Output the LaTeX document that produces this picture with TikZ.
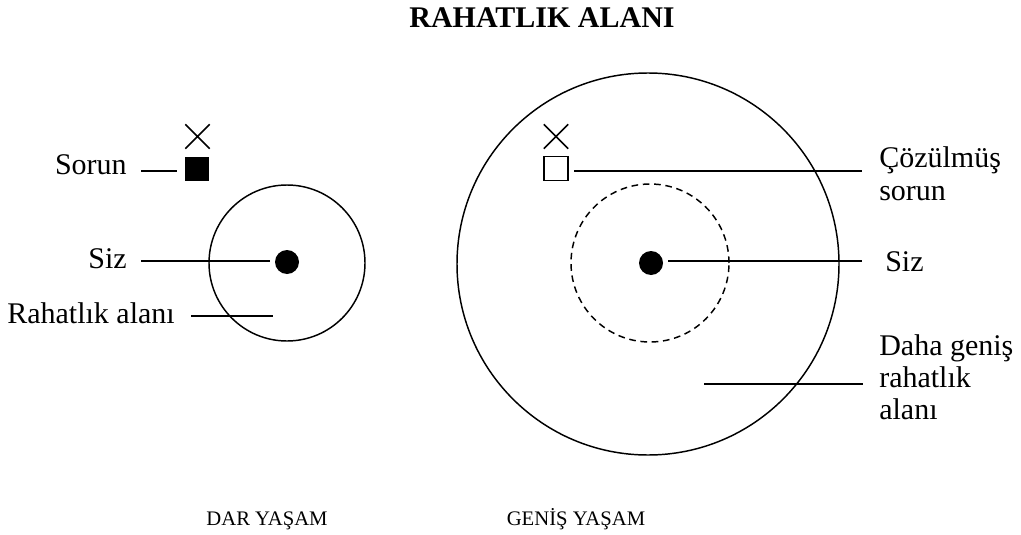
\documentclass[tikz,border=0pt]{standalone}
\usepackage{fontspec}
\setmainfont{Liberation Serif}
\usetikzlibrary{shapes.misc}
\tikzset{
  lbl/.style={inner sep=0pt, font=\fontsize{22.5}{24}\selectfont},
  captxt/.style={inner sep=0pt, font=\fontsize{15.5}{18}\selectfont},
  ring/.style={circle, draw, inner sep=0pt, line width=1.1pt},
  youdot/.style={circle, fill=black, inner sep=0pt, minimum size=18pt},
  xmark/.style={cross out, draw, inner sep=0pt, minimum size=17.25pt, line width=1.1pt},
  sqmark/.style={rectangle, inner sep=0pt, minimum size=18pt, line width=1.1pt},
  conn/.style={line width=1.1pt},
}
\begin{document}
\begin{tikzpicture}[x=0.75pt,y=-0.75pt]
\path[use as bounding box] (0,0) rectangle (1021,535);
% title
\node[inner sep=0pt, font=\bfseries\fontsize{22.5}{24.75}\selectfont, anchor=base] (title) at (542,28) {RAHATLIK ALANI};
% ---------- left diagram
\node[ring, minimum size=117pt] (lcirc) at (287,263) {};
\node[youdot] (ldot) at (287,262) {};
\node[xmark] (lx) at (197.5,136.5) {};
\node[sqmark, fill=black] (lsq) at (197,169) {};
\node[lbl, anchor=base east] (lsorun) at (127,174) {Sorun};
\node[lbl, anchor=base east] (lsiz) at (127,268) {Siz};
\node[lbl, anchor=base east] (lrah) at (175,323) {Rahatlık alanı};
\coordinate (ls1) at (141,171);
\coordinate (ls2) at (177,171);
\coordinate (lz1) at (141,261);
\coordinate (lz2) at (270,261);
\coordinate (lr1) at (191,316);
\coordinate (lr2) at (273,316);
\draw[conn] (ls1) -- (ls2);
\draw[conn] (lz1) -- (lz2);
\draw[conn] (lr1) -- (lr2);
% ---------- right diagram
\node[ring, minimum size=286.5pt] (rbig) at (648,264) {};
\node[ring, dashed, dash pattern=on 5pt off 3.5pt, minimum size=118.5pt] (rdash) at (650,263) {};
\node[youdot] (rdot) at (651,263) {};
\node[xmark] (rx) at (556,136.5) {};
\node[sqmark, draw] (rsq) at (556,168.5) {};
\node[lbl, anchor=base west, align=left, font=\fontsize{22.5}{24.75}\selectfont] (rcoz) at (879,200) {Çözülmüş\\sorun};
\node[lbl, anchor=base west] (rsiz) at (885,271) {Siz};
\node[lbl, anchor=base west, align=left] (rdaha) at (879,419) {Daha geniş\\rahatlık\\alanı};
\coordinate (rc1) at (574,171);
\coordinate (rc2) at (862,171);
\coordinate (rs1) at (668,261);
\coordinate (rs2) at (862,261);
\coordinate (rd1) at (704,384);
\coordinate (rd2) at (863,384);
\draw[conn] (rc1) -- (rc2);
\draw[conn] (rs1) -- (rs2);
\draw[conn] (rd1) -- (rd2);
% captions
\node[captxt, anchor=base] (ldar) at (267,525) {DAR YAŞAM};
\node[captxt, anchor=base] (rgen) at (576,525) {GENİŞ YAŞAM};
\end{tikzpicture}
\end{document}
